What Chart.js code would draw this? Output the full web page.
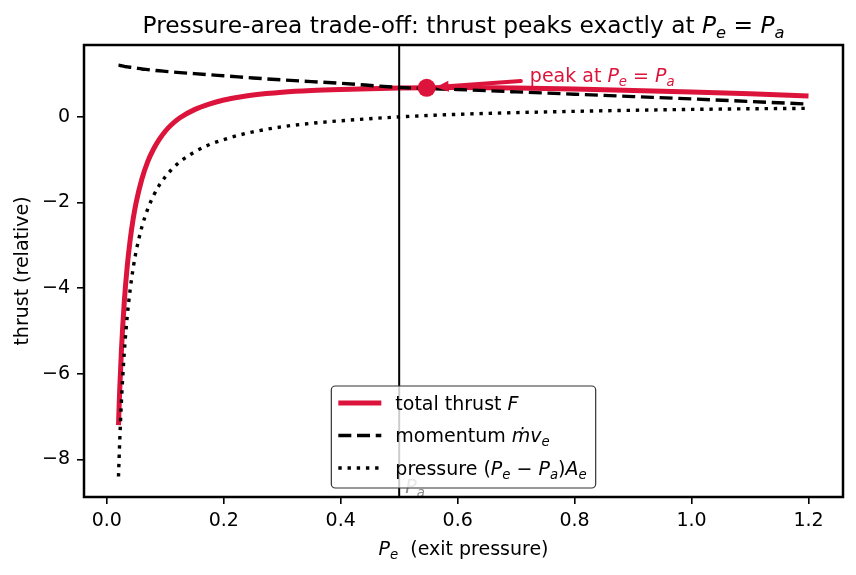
<!DOCTYPE html>
<html>
<head>
<meta charset="utf-8">
<script src="https://cdn.jsdelivr.net/npm/chart.js@4.4.0/dist/chart.umd.min.js"></script>
<style>
  html, body { margin: 0; padding: 0; background: #fff; }
  #wrap { width: 856px; height: 575px; }
</style>
</head>
<body>
<div id="wrap"><canvas id="c" width="856" height="575"></canvas></div>
<script>
// values
const exitP = [0.02, 0.022, 0.025, 0.03, 0.035, 0.04, 0.045, 0.05, 0.06, 0.07, 0.08, 0.09, 0.1, 0.11, 0.125, 0.15,
  0.175, 0.2, 0.225, 0.25, 0.3, 0.35, 0.4, 0.5, 0.6, 0.7, 0.8, 0.9, 1.0, 1.1, 1.2];
const totalF = [-7.2, -6.4, -5.46, -4.3, -3.48, -2.87, -2.39, -2.01, -1.45, -1.045, -0.75, -0.52, -0.335, -0.19, -0.02, 0.17,
  0.30, 0.395, 0.46, 0.51, 0.575, 0.615, 0.64, 0.675, 0.685, 0.675, 0.65, 0.615, 0.58, 0.54, 0.49];
const momentum = [1.21, 1.205, 1.195, 1.18, 1.17, 1.16, 1.15, 1.14, 1.12, 1.105, 1.09, 1.077, 1.065, 1.053, 1.035, 1.01,
  0.985, 0.96, 0.935, 0.91, 0.865, 0.825, 0.785, 0.69, 0.64, 0.585, 0.53, 0.475, 0.42, 0.36, 0.30];
const pressure = [-8.4, -7.6, -6.65, -5.48, -4.65, -4.03, -3.54, -3.15, -2.57, -2.15, -1.84, -1.59, -1.4, -1.24, -1.05, -0.82,
  -0.65, -0.53, -0.43, -0.35, -0.23, -0.15, -0.09, 0.0, 0.06, 0.10, 0.13, 0.155, 0.175, 0.19, 0.20];
const peakX = [0.547];
const peakY = [0.68];
const ambientP = 0.5;
const noteAt = [0.72, 0.85];
const xTicks = [0, 0.2, 0.4, 0.6, 0.8, 1.0, 1.2];
const yTicks = [-8, -6, -4, -2, 0];

const RED = '#DC143C';
const FONT = '"DejaVu Sans", sans-serif';
const FS = 19;

const pts = ys => exitP.map((x, i) => ({ x: x, y: ys[i] }));

// little rich-text helper for italic / subscript bits
function segFont(seg, size) {
  const s = seg[1] && seg[1].includes('s') ? size * 0.7 : size;
  const it = seg[1] && (seg[1].includes('i') || seg[1].includes('s')) ? 'italic ' : '';
  return it + s + 'px ' + FONT;
}
function richWidth(ctx, segs, size) {
  let w = 0;
  segs.forEach(seg => { ctx.font = segFont(seg, size); w += ctx.measureText(seg[0]).width; });
  return w;
}
function drawRich(ctx, segs, x, y, size, align) {
  const w = richWidth(ctx, segs, size);
  let cx = align === 'center' ? x - w / 2 : (align === 'right' ? x - w : x);
  ctx.textAlign = 'left';
  ctx.textBaseline = 'alphabetic';
  segs.forEach(seg => {
    ctx.font = segFont(seg, size);
    const dy = seg[1] && seg[1].includes('s') ? size * 0.22 : 0;
    ctx.fillText(seg[0], cx, y + dy);
    cx += ctx.measureText(seg[0]).width;
  });
  return w;
}

const extras = {
  id: 'extras',
  afterDatasetsDraw(chart) {
    const ctx = chart.ctx, a = chart.chartArea;
    const xs = chart.scales.x, ys = chart.scales.y;
    ctx.save();

    // ambient pressure line + label (clipped)
    ctx.save();
    ctx.beginPath(); ctx.rect(a.left, a.top, a.right - a.left, a.bottom - a.top); ctx.clip();
    const px = xs.getPixelForValue(ambientP);
    ctx.strokeStyle = '#000'; ctx.lineWidth = 2;
    ctx.beginPath(); ctx.moveTo(px, a.top); ctx.lineTo(px, a.bottom); ctx.stroke();
    ctx.fillStyle = '#8a8a8a';
    drawRich(ctx, [['P', 'i'], ['a', 's']], px + 6, a.bottom - 4, FS, 'left');
    ctx.restore();

    // annotation arrow + text
    const tx = xs.getPixelForValue(noteAt[0]), ty = ys.getPixelForValue(noteAt[1]);
    const mx = xs.getPixelForValue(peakX[0]), my = ys.getPixelForValue(peakY[0]);
    const dx = mx - tx, dy = my - ty, len = Math.hypot(dx, dy);
    const ux = dx / len, uy = dy / len;
    const sx = tx + ux * 7, sy = ty + uy * 7;
    const ex = mx - ux * 9, ey = my - uy * 9;
    ctx.strokeStyle = RED; ctx.fillStyle = RED; ctx.lineWidth = 4; ctx.lineCap = 'round';
    ctx.beginPath(); ctx.moveTo(sx, sy); ctx.lineTo(ex - ux * 8, ey - uy * 8); ctx.stroke();
    ctx.beginPath();
    ctx.moveTo(ex, ey);
    ctx.lineTo(ex - ux * 13 - uy * 5.5, ey - uy * 13 + ux * 5.5);
    ctx.lineTo(ex - ux * 13 + uy * 5.5, ey - uy * 13 - ux * 5.5);
    ctx.closePath(); ctx.fill();
    drawRich(ctx, [['peak at '], ['P', 'i'], ['e', 's'], [' = '], ['P', 'i'], ['a', 's']], tx + 2, ty + 1, FS, 'left');

    // frame
    ctx.strokeStyle = '#000'; ctx.lineWidth = 2.5;
    ctx.strokeRect(a.left, a.top, a.right - a.left, a.bottom - a.top);

    // legend
    const rows = [
      { segs: [['total thrust '], ['F', 'i']], color: RED, width: 5, dash: [] },
      { segs: [['momentum '], ['ṁ', 'i'], ['v', 'i'], ['e', 's']], color: '#000', width: 3.4, dash: [13, 5.7] },
      { segs: [['pressure ('], ['P', 'i'], ['e', 's'], [' − '], ['P', 'i'], ['a', 's'], [')'], ['A', 'i'], ['e', 's']], color: '#000', width: 3.4, dash: [3.4, 5.8] }
    ];
    let maxW = 0;
    rows.forEach(r => { maxW = Math.max(maxW, richWidth(ctx, r.segs, FS)); });
    const bw = 64 + maxW + 9, bh = 102;
    const bx = (a.left + a.right) / 2 - bw / 2, by = a.bottom - 9 - bh;
    ctx.beginPath();
    ctx.roundRect(bx, by, bw, bh, 4);
    ctx.fillStyle = 'rgba(255,255,255,0.8)'; ctx.fill();
    ctx.strokeStyle = '#333'; ctx.lineWidth = 1.2; ctx.stroke();
    rows.forEach((r, i) => {
      const cy = by + 17 + i * 32.5;
      ctx.strokeStyle = r.color; ctx.lineWidth = r.width; ctx.lineCap = 'butt';
      ctx.setLineDash(r.dash);
      ctx.beginPath(); ctx.moveTo(bx + 7, cy); ctx.lineTo(bx + 50, cy); ctx.stroke();
      ctx.setLineDash([]);
      ctx.fillStyle = '#000';
      drawRich(ctx, r.segs, bx + 64, cy + 6.5, FS, 'left');
    });

    // titles
    const cx = (a.left + a.right) / 2;
    ctx.fillStyle = '#000';
    drawRich(ctx, [['Pressure-area trade-off: thrust peaks exactly at '], ['P', 'i'], ['e', 's'], [' = '], ['P', 'i'], ['a', 's']], cx, 33, 23.3, 'center');
    drawRich(ctx, [['P', 'i'], ['e', 's'], ['  (exit pressure)']], cx, 555, FS, 'center');
    ctx.save();
    ctx.translate(28, (a.top + a.bottom) / 2);
    ctx.rotate(-Math.PI / 2);
    ctx.font = FS + 'px ' + FONT; ctx.textAlign = 'center'; ctx.textBaseline = 'alphabetic';
    ctx.fillText('thrust (relative)', 0, 0);
    ctx.restore();

    ctx.restore();
  }
};

new Chart(document.getElementById('c'), {
  type: 'line',
  data: {
    datasets: [
      { label: 'total thrust F', data: pts(totalF), borderColor: RED, borderWidth: 5,
        pointRadius: 0, cubicInterpolationMode: 'monotone', order: 3 },
      { label: 'momentum', data: pts(momentum), borderColor: '#000', borderWidth: 3.4, borderDash: [13, 5.7],
        pointRadius: 0, cubicInterpolationMode: 'monotone', order: 2 },
      { label: 'pressure', data: pts(pressure), borderColor: '#000', borderWidth: 3.4, borderDash: [3.4, 5.8],
        pointRadius: 0, cubicInterpolationMode: 'monotone', order: 1 },
      { label: 'peak', data: peakX.map((x, i) => ({ x: x, y: peakY[i] })), showLine: false,
        pointRadius: 9, pointBackgroundColor: RED, pointBorderColor: RED, pointBorderWidth: 0, order: 0 }
    ]
  },
  options: {
    responsive: false,
    animation: false,
    devicePixelRatio: 1,
    layout: { padding: { left: 0, right: 13, top: 45, bottom: 0 } },
    plugins: { legend: { display: false }, title: { display: false }, tooltip: { enabled: false } },
    scales: {
      x: {
        type: 'linear', min: -0.039, max: 1.259,
        afterBuildTicks: s => { s.ticks = xTicks.map(v => ({ value: v })); },
        afterFit: s => { s.height = 78; },
        grid: { drawOnChartArea: false, color: '#000', lineWidth: 1.6, tickLength: 7 },
        border: { display: false },
        ticks: { color: '#000', font: { family: FONT, size: FS }, padding: 6, maxRotation: 0,
          callback: v => v.toFixed(1) }
      },
      y: {
        type: 'linear', min: -8.88, max: 1.68,
        afterBuildTicks: s => { s.ticks = yTicks.map(v => ({ value: v })); },
        afterFit: s => { s.width = 84; },
        grid: { drawOnChartArea: false, color: '#000', lineWidth: 1.6, tickLength: 7 },
        border: { display: false },
        ticks: { color: '#000', font: { family: FONT, size: FS }, padding: 7,
          callback: v => String(v).replace('-', '\u2212') }
      }
    }
  },
  plugins: [extras]
});
</script>
</body>
</html>
